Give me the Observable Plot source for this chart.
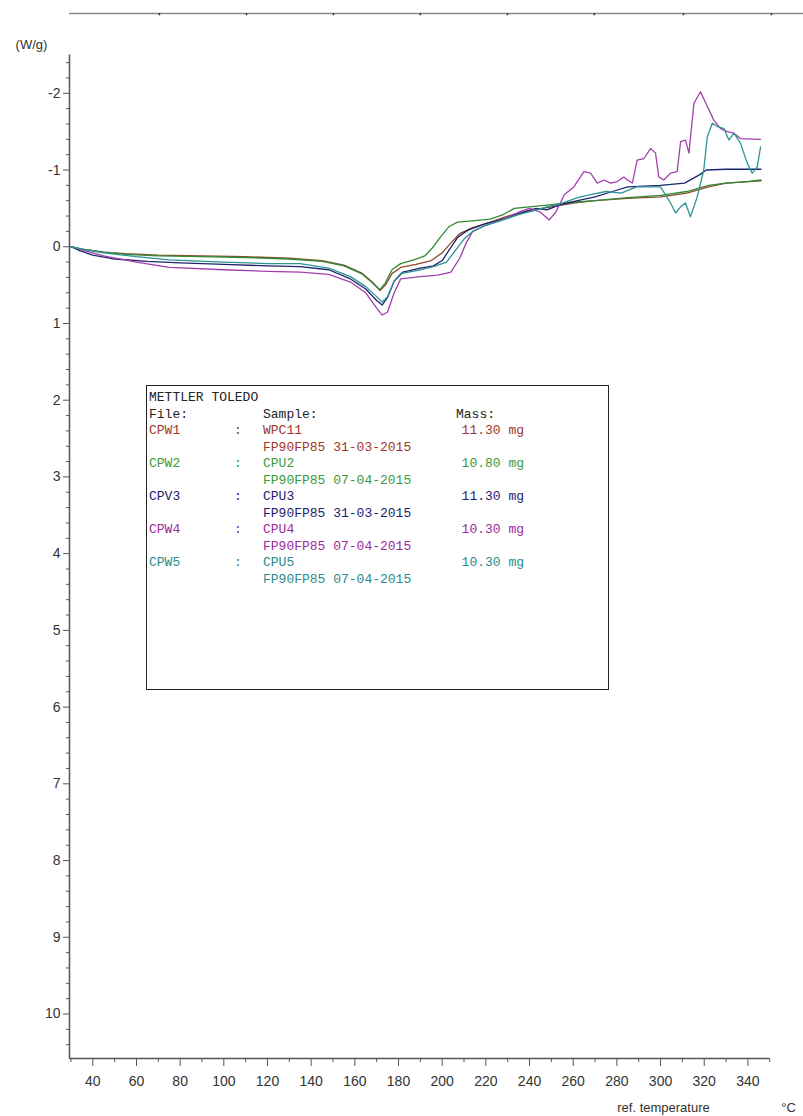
<!DOCTYPE html>
<html><head><meta charset="utf-8">
<script src="https://cdn.jsdelivr.net/npm/d3@7"></script>
<script src="https://cdn.jsdelivr.net/npm/@observablehq/plot@0.6"></script>
<style>
html,body{margin:0;padding:0;background:#fff;}
#wrap{position:relative;width:803px;height:1116px;overflow:hidden;}
#legend{position:absolute;left:146px;top:385px;width:463px;height:305px;border:1px solid #222;box-sizing:border-box;font-family:"Liberation Mono","Courier New",monospace;font-size:13px;color:#222;background:#fff;}
#legend span{position:absolute;white-space:pre;line-height:16px;}
</style></head><body><div id="wrap"></div>
<script>
// ---- data (temperature °C, heat flow W/g) ----
const seriesNames = ["CPW1","CPW2","CPW3","CPW4","CPW5"];
const lineColors = ["#8e4a2a","#2f8a35","#1d2470","#a23fae","#2d9393"];
const textColors = ["#a0362a","#3a9a3a","#1c1c6c","#9a2a9a","#2a8a8a"];

const cpw1 = [[30,0],[35,0.03],[45,0.07],[55,0.09],[70,0.11],[90,0.12],[110,0.13],[130,0.15],[145,0.18],[155,0.24],[163,0.34],[168,0.46],[171.5,0.57],[174,0.5],[177,0.35],[181,0.27],[188,0.23],[195,0.18],[200,0.08],[204,-0.05],[208,-0.17],[214,-0.25],[222,-0.32],[230,-0.4],[240,-0.47],[250,-0.52],[260,-0.57],[270,-0.6],[285,-0.63],[300,-0.65],[312,-0.7],[322,-0.78],[330,-0.83],[340,-0.85],[346,-0.86]];
const cpw2 = [[30,0],[35,0.03],[45,0.07],[55,0.1],[70,0.12],[90,0.13],[110,0.14],[130,0.16],[145,0.19],[155,0.25],[163,0.35],[168,0.47],[171.5,0.56],[174,0.47],[177,0.3],[181,0.22],[187,0.17],[192,0.12],[196,0.0],[199,-0.12],[203,-0.26],[207,-0.32],[215,-0.34],[222,-0.36],[228,-0.42],[233,-0.5],[240,-0.52],[250,-0.55],[260,-0.58],[270,-0.6],[285,-0.64],[300,-0.67],[312,-0.72],[322,-0.8],[330,-0.83],[340,-0.85],[346,-0.87]];
const cpw3 = [[30,0],[34,0.05],[40,0.11],[50,0.16],[65,0.19],[80,0.21],[100,0.23],[120,0.25],[135,0.26],[148,0.3],[158,0.42],[165,0.55],[170,0.7],[172.5,0.76],[175,0.66],[178,0.45],[182,0.33],[190,0.28],[196,0.25],[200,0.18],[203,0.05],[207,-0.12],[212,-0.22],[220,-0.3],[230,-0.38],[237,-0.45],[243,-0.5],[248,-0.48],[254,-0.55],[262,-0.6],[270,-0.65],[278,-0.72],[285,-0.78],[300,-0.8],[311,-0.83],[318,-0.94],[321,-1.0],[330,-1.01],[346,-1.01]];
const cpw4 = [[30,0],[35,0.04],[45,0.12],[60,0.2],[75,0.27],[100,0.3],[120,0.32],[135,0.33],[148,0.36],[158,0.46],[165,0.6],[170,0.8],[172.5,0.89],[175,0.85],[178,0.6],[181,0.42],[190,0.39],[198,0.37],[204,0.33],[208,0.15],[211,-0.05],[214,-0.2],[220,-0.28],[228,-0.36],[235,-0.45],[240,-0.5],[245,-0.45],[249,-0.35],[252,-0.45],[256,-0.68],[260.3,-0.78],[264.9,-0.98],[268,-0.96],[271,-0.83],[274.1,-0.87],[277.1,-0.83],[280.2,-0.85],[283.2,-0.91],[284.8,-0.87],[287.1,-0.83],[289.3,-1.13],[292.4,-1.15],[295.4,-1.28],[297.7,-1.22],[299.2,-0.91],[301.5,-0.87],[304.6,-0.96],[307.6,-0.98],[309.2,-1.37],[311.4,-1.39],[313,-1.22],[315.3,-1.87],[318.3,-2.02],[321.4,-1.83],[324.4,-1.65],[327.5,-1.54],[330.5,-1.5],[333.6,-1.48],[336.6,-1.41],[345.8,-1.4]];
const cpw5 = [[30,0],[35,0.03],[45,0.08],[60,0.13],[75,0.17],[100,0.2],[120,0.22],[135,0.22],[148,0.28],[158,0.39],[165,0.52],[170,0.65],[172.5,0.72],[175,0.65],[178,0.45],[181,0.35],[190,0.3],[196,0.26],[202,0.2],[206,0.05],[210,-0.1],[214,-0.2],[220,-0.28],[228,-0.35],[235,-0.42],[242,-0.47],[248,-0.52],[255,-0.57],[262,-0.64],[268,-0.68],[275,-0.72],[282,-0.7],[289,-0.78],[295,-0.78],[300,-0.78],[304.6,-0.57],[306.9,-0.44],[309.2,-0.52],[311.4,-0.57],[313.7,-0.39],[316.8,-0.65],[319.8,-1.0],[321.4,-1.43],[323.7,-1.61],[325.9,-1.57],[329,-1.54],[331.3,-1.39],[333.6,-1.48],[336.6,-1.35],[339.7,-1.09],[342,-0.96],[344.3,-1.04],[345.8,-1.3]];

// tick labels
const xMajor = [40,60,80,100,120,140,160,180,200,220,240,260,280,300,320,340];
const xMinor = [30,50,70,90,110,130,150,170,190,210,230,250,270,290,310,330,350];
const yMajor = [-2,-1,0,1,2,3,4,5,6,7,8,9,10];
const topTicks = [70.5,110.4,150.2,190,229.9,269.7,310.5,350.8];

// legend table
const legendFiles = ["CPW1","CPW2","CPV3","CPW4","CPW5"];
const legendSamples = ["WPC11","CPU2","CPU3","CPU4","CPU5"];
const legendMasses = ["11.30 mg","10.80 mg","11.30 mg","10.30 mg","10.30 mg"];
const legendNotes = ["FP90FP85 31-03-2015","FP90FP85 07-04-2015","FP90FP85 31-03-2015","FP90FP85 07-04-2015","FP90FP85 07-04-2015"];

// ---- chart ----
const xDomain = [29.33, 349.9];
const yDomain = [-3.04, 10.58];
const yMinor = d3.range(-24, 106, 2).map(v => v / 10).filter(v => Math.abs(v - Math.round(v)) > 1e-6);
const allSeries = [cpw1, cpw2, cpw3, cpw4, cpw5];
const rows = allSeries.flatMap((pts, i) => pts.map(([t, v]) => ({t, v, name: seriesNames[i]})));

const chart = Plot.plot({
  width: 803, height: 1116,
  marginLeft: 69, marginRight: 34, marginTop: 13, marginBottom: 58,
  x: {domain: xDomain},
  y: {domain: yDomain, reverse: true},
  color: {domain: seriesNames, range: lineColors},
  style: {fontFamily: "'Liberation Sans',Arial,sans-serif", fontSize: "14px", color: "#333", background: "#fff"},
  marks: [
    Plot.ruleY([yDomain[0]], {x1: xDomain[0], x2: 365.5, stroke: "#8a8a8a", strokeWidth: 1.6}),
    Plot.ruleX(topTicks, {y1: yDomain[0], y2: yDomain[0] + 0.03, stroke: "#333", strokeWidth: 1.5}),
    Plot.ruleX([xDomain[0]], {y1: -2.5, y2: yDomain[1], stroke: "#555", strokeWidth: 1.5}),
    Plot.ruleY([yDomain[1]], {stroke: "#555", strokeWidth: 1.5}),
    Plot.axisY({ticks: yMajor, tickSize: 6, tickPadding: 3, tickFormat: d => String(d), label: null, stroke: "#555", fill: "#333", fontSize: 14}),
    Plot.axisY({ticks: yMinor, tickSize: 3, tickFormat: () => "", label: null, stroke: "#555"}),
    Plot.axisX({ticks: xMajor, tickSize: 8, tickPadding: 10, tickFormat: d => String(d), label: null, stroke: "#555", fill: "#333", fontSize: 14}),
    Plot.axisX({ticks: xMinor, tickSize: 4, tickFormat: () => "", label: null, stroke: "#555"}),
    Plot.line(rows, {x: "t", y: "v", z: "name", stroke: "name", strokeWidth: 1.3}),
    Plot.text(["(W/g)"], {frameAnchor: "top-left", textAnchor: "middle", lineAnchor: "middle", dx: -38, dy: 31, fontSize: 13, fill: "#333"}),
    Plot.text(["ref. temperature"], {frameAnchor: "bottom-right", textAnchor: "middle", lineAnchor: "middle", dx: -106, dy: 49, fontSize: 13, fill: "#333"}),
    Plot.text(["°C"], {frameAnchor: "bottom-right", textAnchor: "middle", lineAnchor: "middle", dx: 19, dy: 49, fontSize: 13, fill: "#333"})
  ]
});
const wrap = document.getElementById("wrap");
wrap.appendChild(chart);

// legend box
const lg = document.createElement("div");
lg.id = "legend";
function addSpan(text, left, row, color, right) {
  const s = document.createElement("span");
  s.textContent = text;
  s.style.top = (4 + 16.5 * row) + "px";
  if (right != null) s.style.right = right + "px"; else s.style.left = left + "px";
  s.style.color = color;
  lg.appendChild(s);
}
addSpan("METTLER TOLEDO", 2, 0, "#222");
addSpan("File:", 2, 1, "#222");
addSpan("Sample:", 116, 1, "#222");
addSpan("Mass:", 309, 1, "#222");
legendFiles.forEach((f, i) => {
  const r = 2 + 2 * i, c = textColors[i];
  addSpan(f, 2, r, c);
  addSpan(":", 87, r, c);
  addSpan(legendSamples[i], 116, r, c);
  addSpan(legendMasses[i], null, r, c, 84);
  addSpan(legendNotes[i], 116, r + 1, c);
});
wrap.appendChild(lg);
</script></body></html>
